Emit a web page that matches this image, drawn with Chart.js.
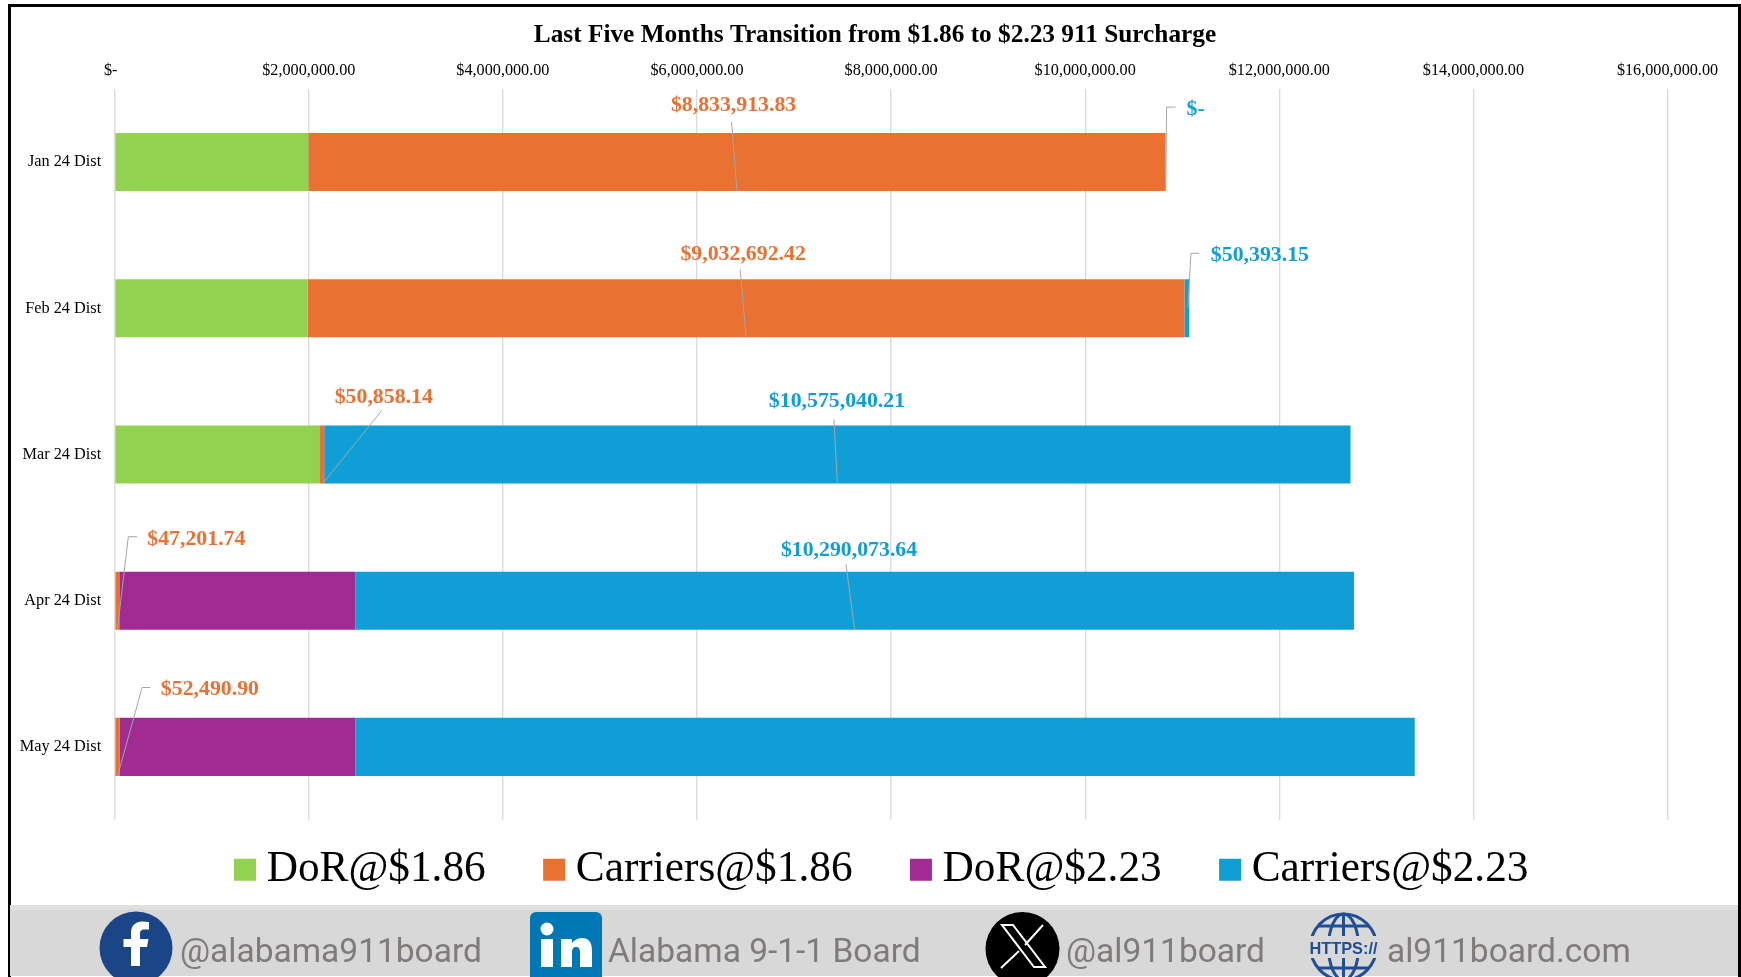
<!DOCTYPE html>
<html><head><meta charset="utf-8">
<script src="https://cdn.jsdelivr.net/npm/chart.js@4"></script>
<style>
html,body{margin:0;padding:0;background:#fff;width:1741px;height:977px;overflow:hidden}
#frame{position:absolute;left:8px;top:4px;width:1727px;height:990px;border:3px solid #000;}
#footer{position:absolute;left:10px;top:905px;width:1728px;height:71px;background:#D8D8D8;border-top:5px solid #E0E0E0;box-sizing:border-box}
#wrap{position:absolute;left:10px;top:7px;width:1728px;height:898px}
#icons{position:absolute;left:0;top:0;width:1741px;height:977px}
#icons text.h{font-family:Roboto,sans-serif;font-size:33.5px;fill:#7f7b79}
</style></head><body>
<div id="frame"></div>
<div id="footer"></div>
<div id="wrap"><canvas id="c" width="1728" height="898"></canvas></div>
<svg id="icons" viewBox="0 0 1741 977">
  <circle cx="136" cy="948" r="36.5" fill="#1A4587"/>
  <path d="M140 966V947h7l1.500-8h-8.500v-5c0-3 1-4.500 4.500-4.500h4.500v-7.500c-2-.3-4-.5-6.500-.5-7 0-11.500 4-11.500 11.500V939h-7.500v8h7.500v19z" fill="#fff"/>
  <text class="h" x="180" y="962">@alabama911board</text>
  <rect x="530" y="912" width="72" height="80" rx="6" fill="#0077B5"/>
  <circle cx="547" cy="929" r="6.500" fill="#fff"/>
  <path d="M541 939h12v28h-12zM561 939h11v4c2-3 6-5 10-5 8 0 10 6 10 13v16h-12v-14c0-4-1-6-4-6-3 0-4 2-4 6v14h-11z" fill="#fff"/>
  <text class="h" x="608" y="962">Alabama 9-1-1 Board</text>
  <circle cx="1022.500" cy="949" r="37" fill="#000"/>
  <path d="M1002 925h11l32 42h-11z" fill="none" stroke="#fff" stroke-width="2"/>
  <path d="M1043 925l-18 20M1019 951l-18 17" fill="none" stroke="#fff" stroke-width="2"/>
  <text class="h" x="1066" y="962">@al911board</text>
  <g fill="none" stroke="#1F4E96" stroke-width="3">
    <circle cx="1343.500" cy="947" r="33"/>
    <ellipse cx="1343.500" cy="947" rx="15" ry="33"/>
    <path d="M1343.500 914v66M1318 926h51M1318 968h51"/>
  </g>
  <rect x="1308" y="936" width="71" height="22" fill="#D8D8D8"/>
  <text x="1343.500" y="954" text-anchor="middle" font-family="Liberation Sans" font-weight="700" font-size="17" fill="#1F4E96" textLength="68" lengthAdjust="spacingAndGlyphs">HTTPS://</text>
  <text class="h" x="1387" y="962">al911board.com</text>
</svg>
<script>
const categories = ['Jan 24 Dist','Feb 24 Dist','Mar 24 Dist','Apr 24 Dist','May 24 Dist'];
const seriesNames = ['DoR@$1.86','Carriers@$1.86','DoR@$2.23','Carriers@$2.23'];
const dor186 = [1995000, 1990000, 2108000, 0, 0];
const carriers186 = [8833913.83, 9032692.42, 50858.14, 47201.74, 52490.90];
const dor223 = [0, 0, 0, 2432000, 2428000];
const carriers223 = [0, 50393.15, 10575040.21, 10290073.64, 10915000];
const tickLabels = ['$-  ','$2,000,000.00','$4,000,000.00','$6,000,000.00','$8,000,000.00','$10,000,000.00','$12,000,000.00','$14,000,000.00','$16,000,000.00'];
const colors = ['#92D250','#E97132','#A02B93','#0F9ED5'];

// Callout layout, as pixel offsets from the bottom-centre of the bar segment.
const callouts = [
 {ds:1,i:0,text:[-3.4,-86],line:[[-5.4,-69],[0,0]]},
 {ds:3,i:0,text:[30,-82],line:[[10,-84],[1,-84],[0,0]]},
 {ds:1,i:1,text:[-3,-83],line:[[-6,-68],[0,0]]},
 {ds:3,i:1,text:[73,-82],line:[[12,-84],[4,-84],[1,-29]]},
 {ds:1,i:2,text:[62,-86],line:[[60,-73],[1,0]]},
 {ds:3,i:2,text:[-0.4,-82],line:[[-3.4,-64],[0,0]]},
 {ds:1,i:3,text:[79,-90],line:[[19.7,-93],[11,-93],[0,0]]},
 {ds:3,i:3,text:[-5.6,-79],line:[[-8.6,-65.5],[0,0]]},
 {ds:1,i:4,text:[92.3,-87],line:[[32.8,-88.4],[24.5,-88.4],[0,0]]}
];
const fmt = v => v === 0 ? '$-' : '$' + v.toLocaleString('en-US',{minimumFractionDigits:2,maximumFractionDigits:2});

const calloutPlugin = {
  id:'callouts',
  afterDatasetsDraw(chart){
    const ctx = chart.ctx;
    ctx.save();
    callouts.forEach(c=>{
      const el = chart.getDatasetMeta(c.ds).data[c.i];
      const ax = (el.x + el.base)/2, ay = el.y + el.height/2;
      ctx.beginPath();
      c.line.forEach((p,k)=> k ? ctx.lineTo(ax+p[0],ay+p[1]) : ctx.moveTo(ax+p[0],ay+p[1]));
      ctx.strokeStyle='#A6A6A6'; ctx.lineWidth=1; ctx.stroke();
      ctx.font='bold 21.8px "Liberation Serif"';
      ctx.fillStyle=colors[c.ds]; ctx.textAlign='center'; ctx.textBaseline='middle';
      ctx.fillText(fmt(chart.data.datasets[c.ds].data[c.i]),ax+c.text[0],ay+c.text[1]);
    });
    ctx.restore();
  }
};
// The legend takes no layout height and sits at the reference's spot below the plot;
// the title is re-centred on the reference's centre line.
const legendPlace = {
  id:'legendPlace',
  beforeLayout(chart){
    const l = chart.legend;
    if(!l._patched){
      const fit = l.fit;
      l.fit = function(){ fit.call(this); this.height = 0; };
      l._patched = true;
    }
  },
  afterLayout(chart){
    const l = chart.legend, pad = l.options.labels.padding;
    l.left = 235 - pad;
    l.right = chart.width + 400;
    l.top = 874 - 7 - pad - 26;
    l.bottom = chart.height;
    const t = chart.titleBlock;
    t.left = 0; t.right = 1730;
  }
};

new Chart(document.getElementById('c'),{
  type:'bar',
  data:{labels:categories,datasets:[dor186,carriers186,dor223,carriers223].map((d,k)=>({
    label:seriesNames[k],data:d,backgroundColor:colors[k],borderWidth:0,barPercentage:0.397,categoryPercentage:1
  }))},
  plugins:[calloutPlugin,legendPlace],
  options:{
    indexAxis:'y',responsive:false,animation:false,
    layout:{padding:{left:0,right:70.5,top:0,bottom:85}},
    scales:{
      x:{position:'top',stacked:true,min:0,max:16000000,
        afterBuildTicks(a){a.ticks=tickLabels.map((_,k)=>({value:k*2000000}));},
        afterFit(a){a.height=38.6;},
        grid:{color:'#DCDCDC',lineWidth:1.4,drawTicks:false},border:{display:false},
        ticks:{autoSkip:false,maxRotation:0,minRotation:0,padding:8.5,color:'#000',font:{family:'"Liberation Serif"',size:16.2},
          callback:(v,i)=>tickLabels[i]}},
      y:{stacked:true,afterFit(a){a.width=104.7;},
        grid:{display:false},border:{display:false},
        ticks:{padding:5.5,color:'#000',font:{family:'"Liberation Serif"',size:16.3}}}
    },
    plugins:{
      tooltip:{enabled:false},
      title:{display:true,text:'Last Five Months Transition from $1.86 to $2.23 911 Surcharge',color:'#000',
        font:{family:'"Liberation Serif"',size:25.3,weight:'bold'},padding:{top:13,bottom:0}},
      legend:{position:'bottom',align:'start',
        labels:{usePointStyle:true,pointStyle:'rect',boxWidth:0.01,boxHeight:22,padding:68.4,color:'#000',
          font:{family:'"Liberation Serif"',size:43.3}}}
    }
  }
});
</script>
</body></html>
